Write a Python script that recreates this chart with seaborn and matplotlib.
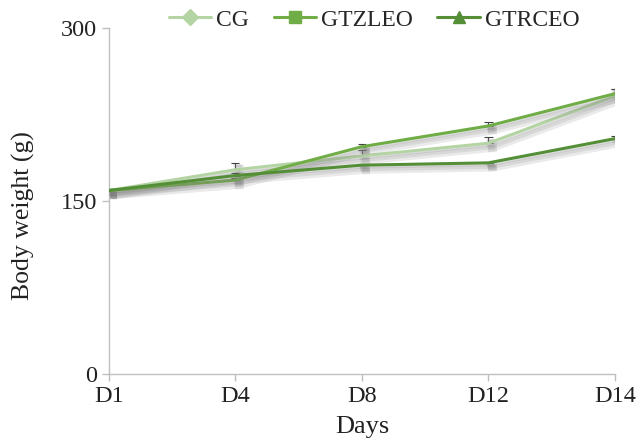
import pandas as pd
import matplotlib
matplotlib.use("Agg")
import matplotlib.pyplot as plt
import matplotlib.patheffects as pe
from matplotlib.lines import Line2D
import seaborn as sns

days = ["D1", "D4", "D8", "D12", "D14"]
cg = [159, 177, 189, 200, 241]
gtzleo = [159, 168, 197, 215, 243]
gtrceo = [159, 172, 181, 183, 204]
cg_err = [1, 6, 5, 5, 6]
gtzleo_err = [1, 2, 2, 3, 4]
gtrceo_err = [1, 2, 1, 1, 2]

groups = ["CG", "GTZLEO", "GTRCEO"]
colors = {"CG": "#b4d4a4", "GTZLEO": "#70ad47", "GTRCEO": "#548f37"}
markers = {"CG": "D", "GTZLEO": "s", "GTRCEO": "^"}

df = pd.DataFrame({
    "Day": days * 3,
    "Weight": cg + gtzleo + gtrceo,
    "Err": cg_err + gtzleo_err + gtrceo_err,
    "Group": [g for g in groups for _ in days],
})
df["pos"] = df["Day"].map({d: i for i, d in enumerate(days)})

sns.set_style("white")
plt.rcParams['font.family'] = ['Liberation Serif', 'DejaVu Serif']

fig = plt.figure(figsize=(6.36, 4.43), dpi=100)
ax = fig.add_axes([0.171, 0.156, 0.796, 0.781])

# error bars (upper only), drawn first
for g in groups:
    sub = df[df["Group"] == g]
    ax.errorbar(sub["pos"], sub["Weight"], yerr=[[0] * len(sub), sub["Err"]],
                fmt="none", ecolor="#444444", elinewidth=0.8, capsize=3, capthick=0.8, zorder=2)

sns.lineplot(data=df, x="pos", y="Weight", hue="Group", palette=colors,
             linewidth=2.2, ax=ax, legend=False, zorder=3)

# soft drop shadow, built from a few faint offset copies
shadow = [pe.SimpleLineShadow(offset=(1 + i, -1.5 - 1.2 * i), shadow_color="#808080",
                              alpha=0.16, linewidth=2.2 + 1.2 * i)
          for i in range(3)]
for line in ax.get_lines():
    line.set_path_effects(shadow + [pe.Normal()])

ax.set_xlim(0, len(days) - 1)
ax.set_ylim(0, 300)
ax.set_xticks(range(len(days)))
ax.set_xticklabels(days)
ax.set_yticks([0, 150, 300])
ax.tick_params(axis="both", labelsize=17.5, colors="#bfbfbf", labelcolor="#222222",
               length=5, width=1, direction="out", bottom=True, left=True)
for s in ["top", "right"]:
    ax.spines[s].set_visible(False)
for s in ["left", "bottom"]:
    ax.spines[s].set_color("#bfbfbf")
    ax.spines[s].set_linewidth(1)

ax.set_xlabel("Days", fontsize=19, color="#222222", labelpad=7)
ax.set_ylabel("Body weight (g)", fontsize=18.5, color="#222222")
ax.yaxis.set_label_coords(-0.146, 0.457)

handles = [Line2D([], [], color=colors[g], marker=markers[g], markersize=8, linewidth=2.2)
           for g in groups]
fig.legend(handles, groups, loc="center", bbox_to_anchor=(0.588, 0.955), ncol=3, frameon=False,
           fontsize=17, handlelength=1.8, handletextpad=0.2, columnspacing=1.05)

fig.savefig("out.png", dpi=100)
